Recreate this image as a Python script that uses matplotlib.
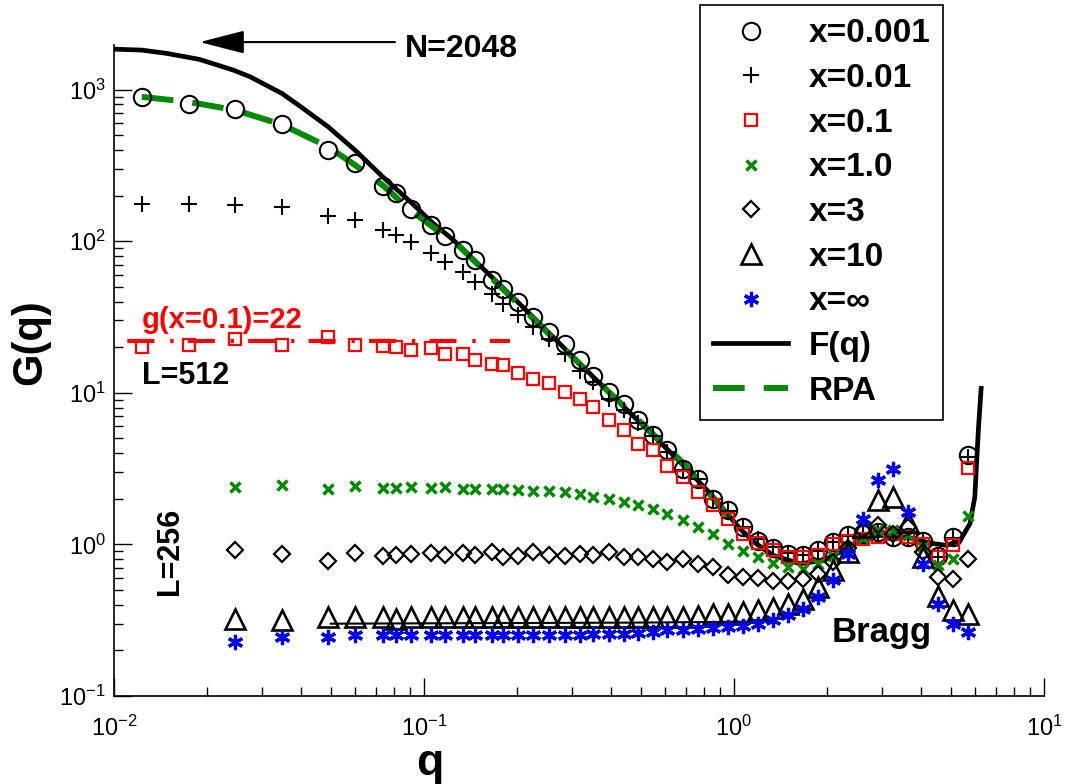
import matplotlib
matplotlib.use('Agg')
import matplotlib.pyplot as plt
from matplotlib.font_manager import FontProperties

plt.rcParams['font.family'] = ['Liberation Sans', 'DejaVu Sans']
plt.rcParams['mathtext.fontset'] = 'custom'
plt.rcParams['mathtext.rm'] = 'Liberation Sans'
plt.rcParams['mathtext.default'] = 'regular'
plt.rcParams['axes.unicode_minus'] = False

# q grids (L=512 has two extra low-q points)
q256 = [0.0246, 0.0348, 0.0491, 0.0601, 0.0736, 0.0812, 0.0908, 0.1053, 0.117, 0.1336,
        0.146, 0.166, 0.180, 0.201, 0.225, 0.253, 0.285, 0.319, 0.351, 0.395,
        0.442, 0.490, 0.548, 0.608, 0.685, 0.765, 0.856, 0.956, 1.07, 1.195,
        1.336, 1.494, 1.67, 1.866, 2.086, 2.332, 2.607, 2.914, 3.258, 3.642,
        4.072, 4.55, 5.087, 5.686]
q512 = [0.0123, 0.0174] + q256

g_0001 = [896, 799, 740, 592, 399, 326, 231, 208, 162, 128, 108, 87, 75, 55.3, 48.7, 39.7,
          31.6, 25.2, 21.1, 16.4, 13.0, 10.1, 8.5, 6.6, 5.25, 4.17, 3.16, 2.7, 2.0, 1.68,
          1.30, 1.06, 0.94, 0.86, 0.846, 0.913, 1.035, 1.147, 1.18, 1.21, 1.117, 1.117,
          1.06, 0.84, 1.12, 3.87]
g_001 = [177, 176, 173, 167, 146, 138, 118, 109.5, 99, 83, 73.3, 62.6, 53.7, 45, 38.8, 32.5,
         27.1, 22.7, 18.1, 14.0, 11.8, 9.14, 7.67, 6.3, 5.2, 4.1, 3.1, 2.7, 2.0, 1.66,
         1.30, 1.08, 0.96, 0.88, 0.85, 0.90, 1.03, 1.14, 1.17, 1.20, 1.12, 1.11,
         1.05, 0.83, 1.10, 3.8]
g_01 = [20.1, 20.6, 22.8, 20.6, 23.5, 20.6, 20.3, 20.1, 19.1, 19.8, 17.9, 17.9, 16.5, 15.6,
        15.2, 13.6, 12.4, 11.6, 10.1, 9.14, 8.06, 6.58, 5.7, 4.62, 4.17, 3.3, 2.78, 2.21,
        1.81, 1.48, 1.18, 1.02, 0.913, 0.825, 0.825, 0.846, 1.01, 1.06, 1.09, 1.117, 1.18,
        1.117, 1.01, 0.825, 0.985, 3.21]
g_1 = [2.39, 2.45, 2.33, 2.41, 2.37, 2.37, 2.39, 2.37, 2.39, 2.33, 2.33, 2.33, 2.33, 2.27,
       2.26, 2.26, 2.21, 2.16, 2.05, 2.0, 1.9, 1.81, 1.72, 1.59, 1.44, 1.30, 1.18, 1.01,
       0.90, 0.825, 0.75, 0.71, 0.69, 0.74, 0.84, 0.96, 1.10, 1.24, 1.24, 1.15, 0.96,
       0.73, 0.805, 1.55]
g_3 = [0.913, 0.859, 0.772, 0.876, 0.833, 0.846, 0.859, 0.876, 0.846, 0.876, 0.846, 0.89,
       0.825, 0.833, 0.89, 0.846, 0.833, 0.859, 0.846, 0.89, 0.825, 0.825, 0.805, 0.764,
       0.805, 0.746, 0.708, 0.624, 0.608, 0.600, 0.573, 0.573, 0.594, 0.64, 0.764, 0.95,
       1.24, 1.34, 1.18, 1.30, 0.89, 0.608, 0.594, 0.805]
g_10 = [0.323, 0.315, 0.331, 0.331, 0.331, 0.323, 0.331, 0.331, 0.331, 0.331, 0.331, 0.331,
        0.331, 0.331, 0.331, 0.331, 0.331, 0.331, 0.331, 0.331, 0.331, 0.331, 0.331, 0.331,
        0.331, 0.338, 0.345, 0.35, 0.358, 0.372, 0.38, 0.406, 0.438, 0.523, 0.674, 0.89,
        1.30, 1.95, 2.05, 1.40, 0.825, 0.46, 0.367, 0.349]
g_inf = [0.227, 0.244, 0.244, 0.251, 0.251, 0.251, 0.251, 0.251, 0.251, 0.251, 0.251, 0.251,
         0.251, 0.251, 0.251, 0.251, 0.254, 0.254, 0.257, 0.257, 0.257, 0.26, 0.264, 0.271,
         0.271, 0.278, 0.281, 0.285, 0.29, 0.30, 0.315, 0.34, 0.377, 0.449, 0.578, 0.868,
         1.48, 2.64, 3.16, 1.63, 0.746, 0.406, 0.30, 0.264]

# F(q) curve
qF = [0.01, 0.0123, 0.0148, 0.0189, 0.0243, 0.0275, 0.0348, 0.0398, 0.0491, 0.0599, 0.0736,
      0.0904, 0.1071, 0.1243, 0.2, 0.352, 0.5, 0.67, 0.85, 1.045, 1.18, 1.34, 1.63, 1.94,
      2.2, 2.61, 2.96, 3.6, 4.29, 4.85, 5.36, 5.77, 5.98, 6.14, 6.27]
gF = [1850, 1823, 1734, 1582, 1344, 1215, 944, 778, 568, 399, 266, 182, 131, 102, 40, 12.7,
      6.3, 3.5, 2.1, 1.27, 1.01, 0.846, 0.746, 0.784, 0.89, 1.09, 1.147, 1.117, 1.02, 0.985,
      1.06, 1.37, 2.05, 5.66, 10.7]
# F(q) for L=256 (thin line under triangles)
qF2 = [0.05, 0.5, 1.28]
gF2 = [0.30, 0.305, 0.31]
# RPA curve
qR = [0.0123, 0.0174, 0.0246, 0.0348, 0.0491, 0.0599, 0.0736, 0.0904, 0.1306, 0.2, 0.35,
      0.5, 0.7, 0.98]
gR = [896, 830, 733, 588, 419, 318, 234, 160, 91.7, 39, 12.8, 6.4, 3.3, 1.45]

q_g01 = [0.01, 0.19]
g_g01 = [22, 22]

green = '#008a00'

fig = plt.figure(figsize=(10.7, 7.84), dpi=100)
ax = fig.add_axes([114/1070, 1-696/784, 930/1070, 651/784])
ax.set_xscale('log')
ax.set_yscale('log')

lF, = ax.plot(qF, gF, color='k', lw=3.4, zorder=2)
ax.plot(qF2, gF2, color='k', lw=1.5, zorder=2)
lR, = ax.plot(qR, gR, color=green, lw=4.3, linestyle=(0, (5.3, 3.2)), zorder=3)
ax.plot(q_g01, g_g01, color='red', lw=3, linestyle=(11.3, (6.5, 3.8, 0.8, 3.4)), zorder=3)

m1, = ax.plot(q512, g_0001, 'o', ms=12.5, mfc='none', mec='k', mew=1.5, zorder=4)
m2, = ax.plot(q512, g_001, '+', ms=11.5, mec='k', mew=1.5, zorder=4)
m3, = ax.plot(q512, g_01, 's', ms=9, mfc='none', mec='red', mew=1.6, zorder=4)
m4, = ax.plot(q256, g_1, 'x', ms=7.5, mec=green, mew=2.5, zorder=4)
m5, = ax.plot(q256, g_3, 'D', ms=8.5, mfc='none', mec='k', mew=1.6, zorder=4)
m6, = ax.plot(q256, g_10, '^', ms=14, mfc='none', mec='k', mew=1.9, zorder=4)
m7, = ax.plot(q256, g_inf, marker=(6, 2, 0), ls='none', ms=11, mec='blue', mew=2.3, zorder=5)

ax.set_xlim(0.01, 10)
ax.set_ylim(0.1, 1970)

for s in ['top', 'right']:
    ax.spines[s].set_visible(False)
for s in ['left', 'bottom']:
    ax.spines[s].set_linewidth(1.2)
ax.tick_params(which='major', direction='in', length=13, width=1, labelsize=17,
               top=False, right=False)
ax.tick_params(axis='x', which='major', pad=14)
ax.tick_params(axis='y', which='major', pad=6)
ax.tick_params(which='minor', direction='in', length=6.5, width=1, top=False, right=False)

ax.set_xlabel('q', fontsize=32, fontweight='bold')
ax.xaxis.set_label_coords(0.34, -0.072)
ax.set_ylabel('G(q)', fontsize=30, fontweight='bold')
ax.yaxis.set_label_coords(-0.069, 0.544)

# annotations
ax.annotate('', xy=(0.0189, 2059), xytext=(0.0806, 2059), annotation_clip=False,
            arrowprops=dict(arrowstyle='-|>,head_length=0.7,head_width=0.18', lw=1.5,
                            color='k', mutation_scale=40, shrinkA=0, shrinkB=0))
ax.text(0.0869, 1639, 'N=2048', fontsize=23, fontweight='bold', va='baseline', clip_on=False)
ax.text(0.01228, 26.9, 'g(x=0.1)=22', fontsize=21, fontweight='bold', color='red', va='baseline')
ax.text(0.01228, 11.5, 'L=512', fontsize=22, fontweight='bold', va='baseline')
ax.text(0.0152, 0.899, 'L=256', fontsize=22, fontweight='bold', rotation=90,
        ha='center', va='center')
ax.text(2.065, 0.2265, 'Bragg', fontsize=25, fontweight='bold', va='baseline')

handles = [m1, m2, m3, m4, m5, m6, m7, lF, lR]
labels = ['x=0.001', 'x=0.01', 'x=0.1', 'x=1.0', 'x=3', 'x=10', 'x=\u221e', 'F(q)', 'RPA']
leg = ax.legend(handles, labels, loc='upper left', bbox_to_anchor=(700/1070, 0.9935),
                bbox_transform=fig.transFigure,
                prop=FontProperties(family='Liberation Sans', weight='bold', size=24),
                frameon=True, fancybox=False, edgecolor='black', framealpha=1,
                borderpad=0.4, labelspacing=0.41, handlelength=2.25, handletextpad=0.6,
                borderaxespad=0, numpoints=1)
leg.get_frame().set_linewidth(1.2)
leg.set_zorder(10)

fig.savefig('out.png', dpi=100)
